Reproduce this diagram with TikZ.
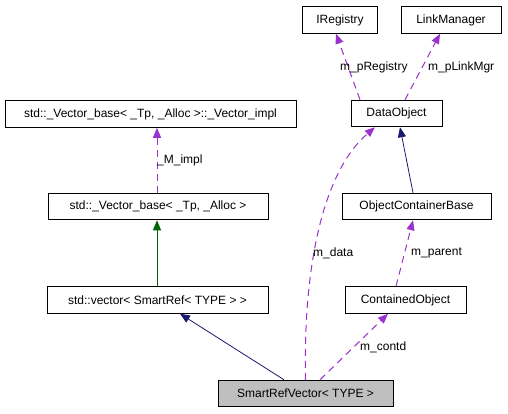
\documentclass[tikz,border=0pt]{standalone}
\usepackage{fontspec}
\setmainfont{Liberation Sans}
\usetikzlibrary{arrows.meta}

\definecolor{edgepurple}{HTML}{9A32CD}
\definecolor{edgenavy}{HTML}{191970}
\definecolor{edgegreen}{HTML}{006400}
\definecolor{boxgray}{HTML}{BFBFBF}

\begin{document}
\begin{tikzpicture}[
    x=1pt, y=-1pt,
    every node/.style={font=\fontsize{12}{14}\selectfont},
    classbox/.style={draw=black, line width=1pt, inner sep=0pt, minimum height=26.5pt},
    member/.style={draw=edgepurple, line width=1pt, dash pattern=on 7pt off 5pt,
        -{Triangle[length=10pt,width=8pt]}},
    inherit/.style={line width=0.8pt, -{Triangle[length=10pt,width=8pt]}},
    elabel/.style={anchor=west, inner sep=0pt},
]
\useasboundingbox (0,0) rectangle (508,413);

% === Classes ===
\node[classbox, minimum width=75pt]  (ireg)    at (340,20)     {IRegistry};
\node[classbox, minimum width=100pt] (linkmgr) at (451,20)     {LinkManager};
\node[classbox, minimum width=91pt]  (dataobj) at (396.5,113.5) {DataObject};
\node[classbox, minimum width=291pt] (vimpl)   at (150.5,114)  {std::\_Vector\_base< \_Tp, \_Alloc >::\_Vector\_impl};
\node[classbox, minimum width=220pt] (vbase)   at (158,206.5)  {std::\_Vector\_base< \_Tp, \_Alloc >};
\node[classbox, minimum width=149pt] (ocb)     at (416.5,206.5) {ObjectContainerBase};
\node[classbox, minimum width=221pt] (vec)     at (157.5,300)  {std::vector< SmartRef< TYPE > >};
\node[classbox, minimum width=121pt] (contobj) at (405.5,300)  {ContainedObject};
\node[classbox, minimum width=175pt, fill=boxgray] (svec) at (305.5,393.5) {SmartRefVector< TYPE >};

% === Inheritance ===
\draw[inherit, edgenavy] ([xshift=-21.5pt]svec.north) -- ([xshift=22.5pt]vec.south);
\draw[inherit, edgegreen] (vec.north -| 157,0) -- (vbase.south -| 157,0);
\draw[inherit, edgenavy] ([xshift=-3.5pt]ocb.north) -- ([xshift=3.5pt]dataobj.south);

% === Members ===
\draw[member] ([xshift=14.5pt]svec.north) -- ([xshift=-17.5pt]contobj.south);
\draw[member] (svec.north) .. controls (303,260) and (325,170) .. ([xshift=-21.5pt]dataobj.south);
\draw[member] ([xshift=-9.5pt]contobj.north) -- ([xshift=-3.5pt]ocb.south);
\draw[member] (vbase.north -| 157,0) -- (vimpl.south -| 157,0);
\draw[member] ([xshift=-36.5pt]dataobj.north) -- ([xshift=-4pt]ireg.south);
\draw[member] ([xshift=8.5pt]dataobj.north) -- ([xshift=-11pt]linkmgr.south);

% member names
\node[elabel] (lcontd)  at (360,347) {m\_contd};
\node[elabel] (ldata)   at (313,253) {m\_data};
\node[elabel] (lparent) at (411,253) {m\_parent};
\node[elabel] (limpl)   at (157,160) {\_M\_impl};
\node[elabel] (lreg)    at (340,67)  {m\_pRegistry};
\node[elabel] (llink)   at (428,67)  {m\_pLinkMgr};

\end{tikzpicture}
\end{document}
